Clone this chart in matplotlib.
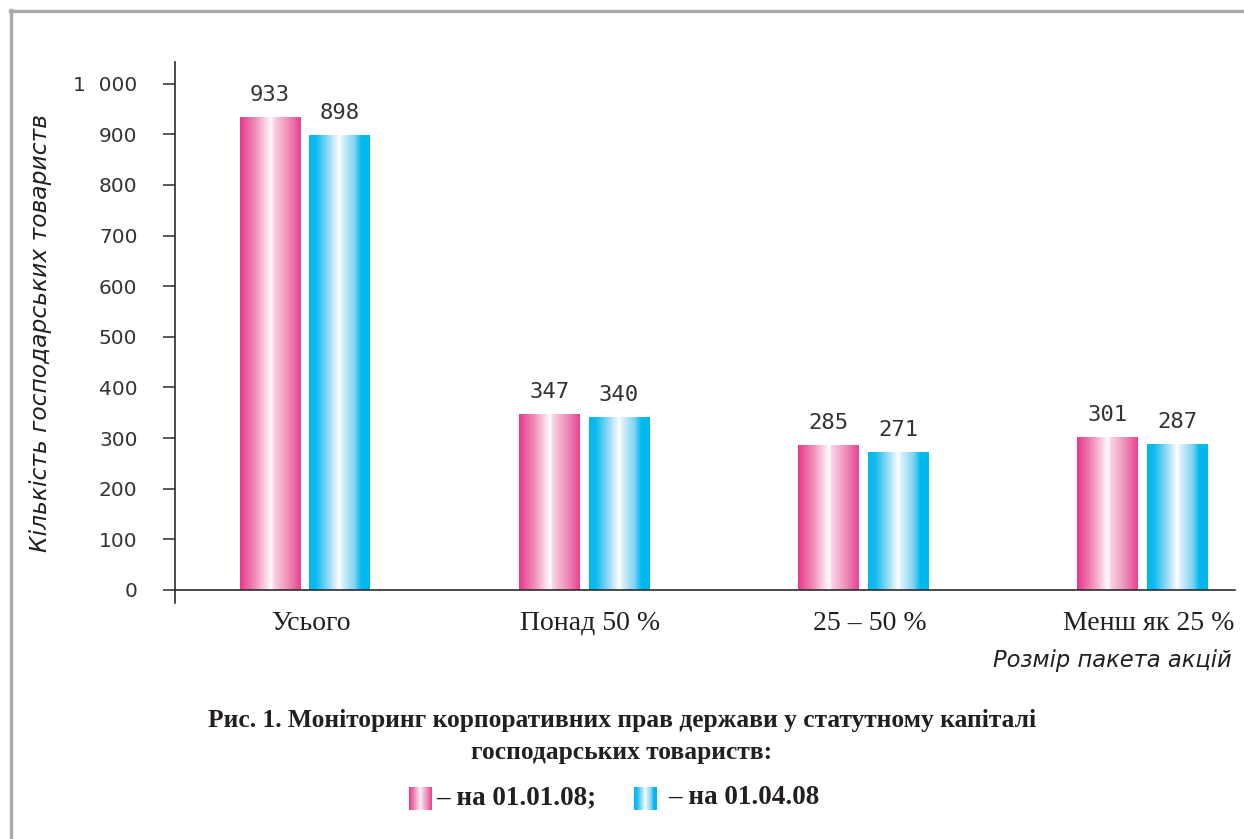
import numpy as np
import matplotlib
matplotlib.use("Agg")
import matplotlib.pyplot as plt
import matplotlib.transforms as mtransforms
from matplotlib.colors import LinearSegmentedColormap
from matplotlib.ticker import FuncFormatter, MultipleLocator
from matplotlib.lines import Line2D

# Дані з рисунка
categories = ["Усього", "Понад 50 %", "25 – 50 %", "Менш як 25 %"]
vals_jan = [933, 347, 285, 301]   # на 01.01.08
vals_apr = [898, 340, 271, 287]   # на 01.04.08
series_labels = ["– на 01.01.08;", "– на 01.04.08"]

title_lines = ["Рис. 1. Моніторинг корпоративних прав держави у статутному капіталі",
               "господарських товариств:"]
ylabel = "Кількість господарських товариств"
xlabel = "Розмір пакета акцій"

TEXT = "#231F20"
AXIS = "#2B2B2B"

# Градієнти "циліндричних" стовпців
pink_cmap = LinearSegmentedColormap.from_list("pink", [
    (0.0, "#E6398A"), (0.25, "#F08DB9"), (0.49, "#FFF3F8"), (0.52, "#FFFFFF"),
    (0.55, "#F9D6E5"), (0.8, "#EE8AB7"), (1.0, "#E7418F")])
blue_cmap = LinearSegmentedColormap.from_list("blue", [
    (0.0, "#00B8EE"), (0.12, "#12BCEF"), (0.35, "#A6DFF7"), (0.5, "#FFFFFF"),
    (0.54, "#DDF2FB"), (0.75, "#7FD2F4"), (0.86, "#00B9EF"), (1.0, "#00B8EE")])
grad = np.linspace(0, 1, 256).reshape(1, -1)

fig = plt.figure(figsize=(12.44, 8.39), dpi=100)
ax = fig.add_axes([175 / 1244, 1 - 603 / 839, 1060 / 1244, 541 / 839])

x = np.arange(len(categories))
width = 0.218
offset = 0.125

bars_jan = ax.bar(x - offset, vals_jan, width, color="none", linewidth=0)
bars_apr = ax.bar(x + offset, vals_apr, width, color="none", linewidth=0)

for bars, cmap in [(bars_jan, pink_cmap), (bars_apr, blue_cmap)]:
    for rect in bars:
        x0 = rect.get_x()
        ax.imshow(grad, cmap=cmap, aspect="auto", interpolation="bilinear",
                  extent=[x0, x0 + rect.get_width(), 0, rect.get_height()], zorder=2)
    for rect in bars:
        ax.annotate(f"{int(rect.get_height())}",
                    (rect.get_x() + rect.get_width() / 2, rect.get_height()),
                    xytext=(0, 9), textcoords="offset points", ha="center", va="bottom",
                    fontsize=16, family="DejaVu Sans Mono", color="#333333")

ax.set_xlim(-0.465, 3.33)
ax.set_ylim(-26, 1043)

for s in ["top", "right"]:
    ax.spines[s].set_visible(False)
ax.spines["bottom"].set_position(("data", 0))
ax.spines["bottom"].set_color(AXIS)
ax.spines["left"].set_color(AXIS)
ax.spines["bottom"].set_linewidth(1.2)
ax.spines["left"].set_linewidth(1.2)

ax.yaxis.set_major_locator(MultipleLocator(100))
ax.yaxis.set_major_formatter(FuncFormatter(lambda v, p: f"{int(v):,}".replace(",", "  ")))
ax.tick_params(axis="y", length=9, width=1.1, color=AXIS, pad=18,
               labelsize=14.5, labelcolor="#333333")
ax.set_yticks(np.arange(0, 1001, 100))

ax.set_xticks(x)
ax.set_xticklabels(categories, family="Liberation Serif", fontsize=20, color=TEXT)
ax.tick_params(axis="x", length=0, pad=15)
shift = mtransforms.ScaledTranslation(6 / 100, 0, fig.dpi_scale_trans)
for lab in ax.get_xticklabels():
    lab.set_transform(lab.get_transform() + shift)

ax.set_ylabel(ylabel, fontsize=16.8, style="italic", color=TEXT, labelpad=0)
ax.yaxis.set_label_coords(-123 / 1060, 0.5)

fig.text(1232 / 1244, 1 - 660 / 839, xlabel, ha="right", va="center",
         fontsize=16.3, style="italic", color=TEXT)

# Підпис рисунка
fig.text(0.5, 1 - 720 / 839, title_lines[0], ha="center", va="center",
         family="Liberation Serif", weight="bold", fontsize=18.4, color=TEXT)
fig.text(0.5, 1 - 752 / 839, title_lines[1], ha="center", va="center",
         family="Liberation Serif", weight="bold", fontsize=18.4, color=TEXT)

# Легенда з градієнтними квадратами
legend_pos = [(409, 436), (634, 668)]
for (sx, tx), cmap, lab in zip(legend_pos, [pink_cmap, blue_cmap], series_labels):
    sq = fig.add_axes([sx / 1244, 1 - 810 / 839, 23 / 1244, 23 / 839])
    sq.imshow(grad, cmap=cmap, aspect="auto", interpolation="bilinear")
    sq.axis("off")
    fig.text(tx / 1244, 1 - 798 / 839, lab, ha="left", va="center",
             family="Liberation Serif", weight="bold", fontsize=19.5, color=TEXT)

# Сіра рамка зліва та зверху
fig.add_artist(Line2D([10 / 1244, 1], [1 - 11 / 839, 1 - 11 / 839],
                      transform=fig.transFigure, color="#A8A8A8", lw=2.4))
fig.add_artist(Line2D([11 / 1244, 11 / 1244], [0, 1 - 10 / 839],
                      transform=fig.transFigure, color="#A8A8A8", lw=2.4))

fig.savefig("out.png", dpi=100, facecolor="white")
